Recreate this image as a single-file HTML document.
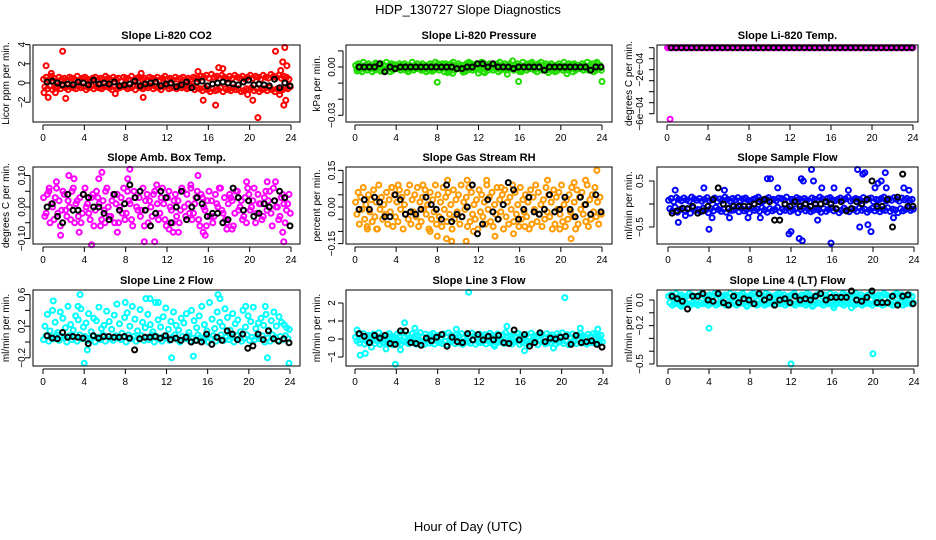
<!DOCTYPE html>
<html><head><meta charset="utf-8">
<style>
html,body{margin:0;padding:0;background:#fff;}
svg{display:block;font-family:"Liberation Sans",Arial,sans-serif;}
</style></head>
<body>
<svg id="chart" width="936" height="540" viewBox="0 0 936 540" xmlns="http://www.w3.org/2000/svg">
<rect x="0" y="0" width="936" height="540" fill="#fff"/>
<text x="468" y="14" text-anchor="middle" font-size="13">HDP_130727  Slope Diagnostics</text>
<text x="468" y="531" text-anchor="middle" font-size="13">Hour of Day (UTC)</text>
</svg>
<script>
const H=[0,0.25,0.5,0.75,1,1.25,1.5,1.75,2,2.25,2.5,2.75,3,3.25,3.5,3.75,4,4.25,4.5,4.75,5,5.25,5.5,5.75,6,6.25,6.5,6.75,7,7.25,7.5,7.75,8,8.25,8.5,8.75,9,9.25,9.5,9.75,10,10.25,10.5,10.75,11,11.25,11.5,11.75,12,12.25,12.5,12.75,13,13.25,13.5,13.75,14,14.25,14.5,14.75,15,15.25,15.5,15.75,16,16.25,16.5,16.75,17,17.25,17.5,17.75,18,18.25,18.5,18.75,19,19.25,19.5,19.75,20,20.25,20.5,20.75,21,21.25,21.5,21.75,22,22.25,22.5,22.75,23,23.25,23.5,23.75];
const BH=[0.5,1,1.5,2,2.5,3,3.5,4,4.5,5,5.5,6,6.5,7,7.5,8,8.5,9,9.5,10,10.5,11,11.5,12,12.5,13,13.5,14,14.5,15,15.5,16,16.5,17,17.5,18,18.5,19,19.5,20,20.5,21,21.5,22,22.5,23,23.5,24];
const xTicks=[0,4,8,12,16,20,24];

// CO2 (ppm/min)
const co2A=[0.4,0.6,0.3,0.7,0.5,0.2,0.6,0.4,0.5,0.3,0.6,0.5,0.4,0.7,0.3,0.5,0.6,0.4,0.2,0.5,0.6,0.3,0.5,0.4,0.7,0.5,0.3,0.6,0.4,0.5,0.2,0.6,0.5,0.4,0.7,0.3,0.5,0.6,0.4,0.5,0.3,0.6,0.5,0.4,0.6,0.3,0.5,0.7,0.4,0.5,0.3,0.6,0.4,0.5,0.6,0.3,0.5,0.4,0.6,0.5,0.4,0.7,0.6,0.8,0.5,0.9,0.6,0.7,0.5,0.8,0.6,0.4,0.7,0.5,0.8,0.6,0.5,0.7,0.4,0.6,0.8,0.5,0.7,0.6,0.4,0.8,0.6,0.5,0.9,0.7,0.6,0.8,0.5,0.7,0.6,0.4];
const co2B=[-0.4,-0.6,-0.3,-0.7,-0.5,-0.4,-0.6,-0.3,-0.5,-0.7,-0.4,-0.5,-0.6,-0.3,-0.5,-0.4,-0.7,-0.5,-0.3,-0.6,-0.4,-0.5,-0.6,-0.4,-0.3,-0.5,-0.7,-0.4,-0.6,-0.5,-0.3,-0.4,-0.6,-0.5,-0.4,-0.7,-0.3,-0.5,-0.6,-0.4,-0.5,-0.3,-0.6,-0.4,-0.5,-0.7,-0.4,-0.3,-0.6,-0.5,-0.4,-0.6,-0.3,-0.5,-0.4,-0.6,-0.5,-0.3,-0.7,-0.5,-0.6,-0.8,-0.5,-0.7,-0.9,-0.6,-0.8,-0.7,-0.5,-0.9,-0.6,-0.7,-0.8,-0.5,-0.7,-0.6,-0.9,-0.8,-0.6,-0.7,-0.5,-0.8,-0.6,-0.9,-0.7,-0.6,-0.8,-0.5,-0.7,-0.9,-0.6,-0.8,-0.7,-0.5,-0.6,-0.4];
const co2OX=[1.9,0.3,0.1,0.5,2.2,7,9.5,9.7,15,15.5,16.7,17,17.4,19.8,20.3,20.8,22.5,23.4,23.6,23.2,23.3,23.5,23,22.9,0.8,1.2];
const co2OY=[3.3,1.8,-1,-1.5,-1.6,-1.1,1,-1.5,1.2,-1.8,-2.3,1.6,1.5,-1.2,-1.8,-3.6,3.3,3.7,1.8,2.2,-2.3,-1.8,1.3,-1.2,1,-1];
const co2K=[0.1,0.2,0,-0.2,-0.1,-0.2,0.1,0,-0.2,0.3,-0.1,0,-0.1,0.1,-0.3,-0.2,-0.1,0.2,-0.3,-0.1,0,0.1,-0.3,-0.1,0,-0.4,-0.2,0.1,-0.5,0.1,0.2,-0.3,-0.1,0,0.1,0,-0.1,-0.2,0.1,0.3,-0.2,-0.1,-0.2,-0.3,0.4,-0.5,0,-0.3];

// Pressure (x0.001 kPa/min)
const presA=[1,2,1,3,1,2,1,1,2,1,2,1,3,1,2,1,1,2,1,2,1,1,3,1,2,1,2,1,1,2,1,3,2,1,1,2,1,2,3,1,2,1,1,2,3,2,1,2,1,3,2,1,2,1,1,2,3,1,2,1,2,1,1,2,1,3,1,2,2,1,1,2,3,1,2,1,2,1,1,2,1,3,1,2,1,2,1,1,2,1,3,1,2,1,2,1];
const presB=[-1,-2,-3,-1,-2,-1,-3,-2,-1,-2,-1,-2,-1,-3,-2,-1,-1,-2,-1,-2,-3,-1,-2,-1,-1,-2,-1,-3,-2,-1,-2,-1,-2,-1,-3,-1,-2,-1,-2,-1,-1,-2,-3,-2,-1,-2,-1,-1,-2,-3,-1,-2,-1,-2,-1,-3,-2,-1,-2,-1,-1,-2,-1,-2,-3,-1,-2,-1,-1,-2,-3,-1,-2,-1,-2,-1,-2,-3,-1,-1,-2,-1,-2,-1,-3,-2,-1,-1,-2,-1,-2,-1,-3,-2,-1,-2];
const presOX=[0.2,2,2.5,8,8.5,9,9.5,11,12.6,12,15.3,14.8,15.9,16,17.2,18.8,20.6,21.3,23.5,24,6.6,7.5,10.5,12.5,19.6,3.8,5.3,9.2];
const presOY=[-2.5,2.5,-2.7,-9.5,2,-3.5,-4,2,-3.5,-3.8,3.8,-4.5,-9,-2.8,3,-3.5,-4.2,1.5,3,-9,-2,-2.7,-3.2,2.3,-2.5,1.5,-1.5,-3];
const presK=[0,0,0,0,2,-3,0,-1,0,0,0,0,0,0,0,0,0,0,0,-1,-1,0,0,2,2,0,2,0,0,0,-1,0,0,0,0,0,-2,0,0,0,0,0,0,0,0,-2,0,0];

// Li-820 Temp (x1e-4 degC/min)
const tempA=[0,0,0,0,0,0,0,0,0,0,0,0,0,0,0,0,0,0,0,0,0,0,0,0,0,0,0,0,0,0,0,0,0,0,0,0,0,0,0,0,0,0,0,0,0,0,0,0,0,0,0,0,0,0,0,0,0,0,0,0,0,0,0,0,0,0,0,0,0,0,0,0,0,0,0,0,0,0,0,0,0,0,0,0,0,0,0,0,0,0,0,0,0,0,0,0];
const tempOX=[0.3,24];
const tempOY=[-6.5,0];
const tempK=[0,0,0,0,0,0,0,0,0,0,0,0,0,0,0,0,0,0,0,0,0,0,0,0,0,0,0,0,0,0,0,0,0,0,0,0,0,0,0,0,0,0,0,0,0,0,0,0];

// Amb Box Temp (x0.01)
const ambA=[3,-2,5,1,-4,6,2,-1,4,-3,0,5,-5,2,3,-2,6,1,-4,4,-1,3,-6,2,5,0,-3,4,1,-5,3,6,-2,2,-4,5,0,3,-1,-6,4,2,-3,5,1,-2,6,-4,3,0,-5,4,2,-1,5,-3,1,6,-2,3,-4,4,0,-6,5,2,-3,1,6,-1,3,-5,4,2,-2,5,0,-4,3,6,-1,2,-5,4,1,-3,5,2,-2,6,0,-4,3,1,-1,4];
const ambB=[-3,4,-5,0,3,-2,-6,5,-1,2,-4,6,1,-3,-5,4,0,-2,3,-6,5,1,-4,-1,6,-3,2,-5,4,0,-2,-4,5,1,-6,3,-1,-3,6,2,-5,0,4,-2,-4,3,1,-6,5,-1,2,-3,-5,6,0,4,-2,-4,1,5,-6,3,-1,2,-3,-5,4,0,6,-2,-4,1,3,-6,5,-1,2,-3,-5,4,0,6,-2,1,-4,3,-1,5,-6,2,0,-3,4,-5,1,-2];
const ambOX=[1.3,2.5,5.7,5.4,8.4,8.2,9.8,10.8,15,23.3,4.7,3.5,15.5,15.7,12.2,12.6,13.1,17.8,23.2,21.7,22.5,1.7,6,19.7,0.6,11,14.3,18.3,3,7.2];
const ambOY=[8,10,11,9,12,9,-11,-11,10,-11,-12,-8,-8,-9,-7,-8,-8,-7,-8,8,8,-9,-5,8,6,7,7,-7,9,-8];
const ambK=[0,1,-3,-5,4,-1,-1,4,3,0,0,-2,-4,4,-1,1,7,3,5,-1,-6,-2,5,3,-5,0,5,-4,0,3,1,-3,-2,-2,-5,-4,6,3,-1,2,-3,-2,1,0,2,5,3,-6];

// Gas Stream RH (x0.01)
const rhA=[2,6,4,8,1,5,3,7,2,9,4,1,6,3,8,5,2,7,4,1,6,9,3,5,8,2,4,7,1,6,3,9,5,2,8,4,6,1,7,3,5,9,2,4,8,6,1,3,7,5,2,9,4,6,1,8,3,5,7,2,4,9,6,1,8,3,5,2,7,4,9,6,1,3,8,5,2,7,4,6,9,1,3,5,8,2,7,4,6,1,9,3,5,8,2,4];
const rhB=[-3,-7,-1,-5,-8,-2,-6,-4,-9,-1,-5,-3,-7,-2,-8,-4,-6,-1,-9,-3,-5,-7,-2,-4,-8,-6,-1,-3,-9,-5,-2,-7,-4,-8,-1,-6,-3,-9,-5,-2,-7,-4,-1,-8,-6,-3,-5,-9,-2,-4,-7,-1,-6,-8,-3,-5,-2,-9,-4,-7,-1,-6,-3,-8,-5,-2,-4,-9,-7,-1,-6,-3,-8,-5,-2,-4,-9,-7,-1,-3,-6,-8,-5,-2,-4,-9,-7,-1,-3,-6,-8,-5,-2,-4,-7,-3];
const rhOX=[23.5,9,10.9,9.4,10.8,8.9,8,13.6,7.3,21,22.4,12.8,15.4,18.7,2.1,4.2,3.6,6.6,11.5,14.2,19.9,21.3,1.2,16.5];
const rhOY=[15,11,11,-14,-14,-13,-12,-12,-10,-13,11,11,-11,11,-9,9,8,9,-10,8,-9,10,-9,-8];
const rhK=[-1,3,-1,4,2,-4,-4,5,3,-3,-2,-3,-1,4,1,-1,-5,9,-6,-3,-4,0,9,-11,-7,3,-2,-5,1,10,7,-5,-1,4,-2,-3,-1,5,-2,-1,4,-1,-4,4,1,-3,5,-2];

// Sample Flow (x0.01 ml/min)
const sfA=[8,12,5,14,10,7,13,9,6,15,11,8,12,6,10,14,7,9,13,5,11,8,15,10,6,12,9,14,7,11,13,8,5,10,12,15,9,6,11,14,8,10,7,13,12,9,15,6,10,8,14,11,7,12,9,5,13,10,8,15,11,6,12,14,9,7,10,13,8,11,15,6,9,12,10,7,14,8,11,13,5,10,9,12,15,7,11,8,14,10,6,13,9,12,8,10];
const sfB=[-10,-15,-7,-18,-12,-9,-16,-11,-20,-8,-14,-12,-17,-9,-13,-19,-10,-15,-7,-12,-16,-11,-18,-9,-14,-13,-8,-17,-10,-15,-12,-19,-9,-14,-11,-16,-8,-13,-18,-10,-15,-12,-7,-17,-11,-14,-9,-16,-13,-10,-19,-12,-8,-15,-11,-17,-14,-9,-13,-18,-10,-16,-12,-8,-15,-11,-19,-14,-9,-13,-17,-10,-12,-16,-8,-14,-11,-18,-13,-9,-15,-10,-17,-12,-14,-8,-16,-11,-13,-19,-10,-15,-12,-9,-14,-11];
const sfOX=[0.7,1,4,3.5,5.5,9.7,10,10.7,11.8,12,13,13.2,12.8,13.1,14,14.2,15,15.9,18.5,19,19.2,18.7,19.5,19.8,20.5,20.8,21.2,21.3,22,23,9,7.8,6,16.2,17.6,4.3,1.7,14.6,20.2,23.5];
const sfOY=[30,-40,-55,35,30,55,55,35,-65,-60,55,50,-75,-80,75,50,35,-85,75,65,68,-50,-45,-60,45,50,68,35,-30,35,-30,-30,-30,35,30,-30,-25,-35,35,30];
const sfK=[-20,-15,-10,-10,-5,-20,-15,-5,10,35,0,-10,-5,-5,-5,-5,0,5,10,5,-35,-35,0,-5,5,-5,0,-5,0,0,5,0,-10,5,-15,-10,5,0,10,50,-5,-5,10,-50,15,65,-5,-5];

// Line 2 Flow (x0.01)
const l2A=[3,8,1,6,4,9,2,7,5,0,8,3,6,1,9,4,7,2,5,8,0,6,3,9,1,7,4,2,8,5,3,6,0,9,4,7,1,5,8,2,6,3,9,0,7,4,1,8,5,2,6,9,3,0,7,4,8,1,5,2,9,6,3,7,0,4,8,1,5,9,2,6,3,7,0,8,4,1,5,9,2,6,3,7,4,8,0,5,1,9,6,2,7,3,8,4];
const l2B=[20,35,14,40,25,12,38,30,18,45,22,15,33,28,42,19,24,36,13,30,27,44,17,21,39,26,16,34,48,23,11,31,37,20,45,29,14,41,25,18,35,22,13,50,28,19,32,43,16,26,38,21,15,30,24,36,12,40,27,18,33,45,22,14,50,29,17,38,25,20,42,31,15,36,23,28,13,40,19,33,26,44,17,24,30,21,35,15,27,38,20,32,25,22,18,16];
const l2OX=[1,4,3.6,17,23.9,4.3,8,19.7,21.6,12.5,21.8,10,10.4,17.2,3.4,11.2,14.6];
const l2OY=[52,-27,60,60,-27,-10,50,45,45,-20,-20,55,55,55,45,50,-18];
const l2K=[8,5,4,12,6,7,6,5,-2,8,5,7,7,6,6,7,5,-10,4,6,6,7,5,8,3,5,2,6,0,2,0,10,-3,6,2,14,10,3,10,-8,-5,10,3,14,4,1,4,-1];

// Line 3 Flow (x0.01)
const l3A=[10,25,5,30,15,20,8,28,12,35,18,6,22,30,14,9,26,17,32,11,24,7,29,16,20,35,13,27,9,23,31,15,19,6,28,12,34,21,10,25,17,30,8,22,14,33,19,11,27,16,24,9,31,20,13,28,7,22,35,15,18,26,11,30,20,14,25,9,33,17,12,27,21,8,30,16,23,11,29,19,34,13,24,10,28,15,21,32,18,9,26,14,30,22,12,20];
const l3B=[-10,-22,-5,-28,-15,-18,-8,-25,-12,-30,-20,-6,-24,-14,-32,-9,-19,-27,-11,-16,-26,-7,-21,-29,-13,-17,-31,-10,-23,-15,-28,-8,-20,-25,-12,-33,-18,-9,-26,-14,-22,-30,-11,-17,-24,-6,-29,-16,-20,-13,-27,-10,-23,-31,-15,-18,-8,-25,-21,-12,-28,-16,-9,-30,-19,-24,-11,-26,-14,-20,-32,-10,-17,-27,-13,-22,-8,-29,-18,-15,-25,-11,-31,-20,-14,-26,-9,-23,-16,-28,-12,-21,-19,-24,-10,-15];
const l3OX=[11,20.3,3.9,0.5,1,0.2,4.8,4.4,1.6,3,14.7,19.2,21.8,23.5,13.5,16.4,5.8,9.8];
const l3OY=[260,230,-140,-90,-80,50,90,-60,-45,-55,70,-50,60,55,-40,-65,60,55];
const l3K=[30,15,-20,20,5,20,-25,-30,45,45,-20,-25,-35,5,-10,10,25,-40,10,-15,-20,30,-5,25,-5,15,-5,20,-20,-25,50,-5,25,-40,-20,35,-15,5,0,10,15,-30,20,-20,-15,-10,-30,-45];

// Line 4 (LT) Flow (x0.01)
const l4A=[3,4,2,5,3,4,2,3,5,4,2,3,4,5,3,2,4,3,5,4,2,3,4,3,5,2,4,3,4,5,3,2,4,5,3,4,2,3,5,4,3,2,4,5,3,4,2,3,4,5,3,2,4,3,5,4,2,3,4,5,3,4,2,5,3,4,2,3,5,4,3,2,4,5,3,4,2,3,4,5,3,2,4,3,5,4,2,3,4,5,3,4,2,3,4,3];
const l4B=[-2,-4,-3,-2,-4,-3,-2,-3,-4,-2,-3,-4,-2,-3,-2,-4,-3,-2,-4,-3,-2,-3,-4,-2,-3,-2,-4,-3,-2,-3,-4,-2,-3,-2,-4,-3,-2,-4,-3,-2,-3,-4,-2,-3,-2,-4,-3,-2,-3,-4,-2,-3,-2,-4,-3,-2,-4,-3,-2,-3,-4,-2,-3,-2,-4,-3,-2,-3,-4,-2,-3,-2,-4,-3,-2,-4,-3,-2,-3,-4,-2,-3,-2,-4,-3,-2,-3,-4,-2,-3,-2,-4,-3,-2,-3,-2];
const l4OX=[4,12,20,16.2,17.9,14.1,7.7,1.3];
const l4OY=[-22,-50,-42,-6,-6,-5,-5,-5];
const l4K=[3,1,-1,-7,3,3,5,0,-1,5,-2,-4,3,-2,1,0,-3,5,0,2,-4,0,1,-2,3,0,1,0,3,5,0,2,2,2,2,7,0,-1,2,7,-2,-2,-2,3,-4,3,4,-3];

const NS='http://www.w3.org/2000/svg';
const svg=document.getElementById('chart');
function mk(tag,attrs,parent){const e=document.createElementNS(NS,tag);for(const k in attrs)e.setAttribute(k,attrs[k]);(parent||svg).appendChild(e);return e;}

const panels=[
 {id:'co2',title:'Slope Li-820 CO2',ylab:'Licor ppm per min.',color:'#ff0000',unit:1,A:co2A,B:co2B,OX:co2OX,OY:co2OY,K:co2K,
  L:33,R:300,T:45,Bm:122,x0:43,x24:291,y0:83,k:9.6,yt:[-2,0,2,4],yl:['\u22122','0','2','4'],ylx:25,ytx:9},
 {id:'pressure',title:'Slope Li-820 Pressure',ylab:'kPa per min.',color:'#22dd00',unit:0.001,A:presA,B:presB,OX:presOX,OY:presOY,K:presK,
  L:346,R:612,T:45,Bm:122,x0:355,x24:602,y0:67,k:1610,yt:[-0.03,-0.02,-0.01,0,0.01],yl:['\u22120.03','','','0.00',''],ylx:335,ytx:320},
 {id:'li820-temp',title:'Slope Li-820 Temp.',ylab:'degrees C per min.',color:'#ff00ff',unit:0.0001,A:tempA,B:tempA,OX:tempOX,OY:tempOY,K:tempK,
  L:657,R:918,T:45,Bm:122,x0:667,x24:913,y0:47.7,k:110000,yt:[0,-0.0001,-0.0002,-0.0003,-0.0004,-0.0005,-0.0006],yl:['','','\u22122e\u221204','','','','\u22126e\u221204'],ylx:643,ytx:632},
 {id:'amb-temp',title:'Slope Amb. Box Temp.',ylab:'degrees C per min.',color:'#ff00ff',unit:0.01,A:ambA,B:ambB,OX:ambOX,OY:ambOY,K:ambK,
  L:33,R:300,T:167,Bm:244,x0:43,x24:291,y0:207,k:315,yt:[-0.1,-0.05,0,0.05,0.1],yl:['\u22120.10','','0.00','','0.10'],ylx:25,ytx:9},
 {id:'gas-rh',title:'Slope Gas Stream RH',ylab:'percent per min.',color:'#ff9a00',unit:0.01,A:rhA,B:rhB,OX:rhOX,OY:rhOY,K:rhK,
  L:346,R:612,T:167,Bm:244,x0:355,x24:602,y0:207,k:244,yt:[-0.15,-0.1,-0.05,0,0.05,0.1,0.15],yl:['\u22120.15','','','0.00','','','0.15'],ylx:335,ytx:320},
 {id:'sample-flow',title:'Slope Sample Flow',ylab:'ml/min per min.',color:'#0000ff',unit:0.01,A:sfA,B:sfB,OX:sfOX,OY:sfOY,K:sfK,
  L:657,R:918,T:167,Bm:244,x0:668,x24:914,y0:204,k:46,yt:[-0.5,0,0.5],yl:['\u22120.5','','0.5'],ylx:643,ytx:632},
 {id:'line2-flow',title:'Slope Line 2 Flow',ylab:'ml/min per min.',color:'#00ffff',unit:0.01,A:l2A,B:l2B,OX:l2OX,OY:l2OY,K:l2K,
  L:33,R:300,T:290,Bm:366,x0:43,x24:290,y0:342,k:79,yt:[-0.2,0,0.2,0.4,0.6],yl:['\u22120.2','','0.2','','0.6'],ylx:25,ytx:9},
 {id:'line3-flow',title:'Slope Line 3 Flow',ylab:'ml/min per min.',color:'#00ffff',unit:0.01,A:l3A,B:l3B,OX:l3OX,OY:l3OY,K:l3K,
  L:346,R:612,T:290,Bm:366,x0:355,x24:603,y0:339,k:18,yt:[-1,0,1,2],yl:['\u22121','0','1','2'],ylx:335,ytx:320},
 {id:'line4-flow',title:'Slope Line 4 (LT) Flow',ylab:'ml/min per min.',color:'#00ffff',unit:0.01,A:l4A,B:l4B,OX:l4OX,OY:l4OY,K:l4K,
  L:657,R:918,T:290,Bm:366,x0:668,x24:914,y0:300,k:128,yt:[0,-0.1,-0.2,-0.3,-0.4,-0.5],yl:['0.0','','\u22120.2','','','\u22120.5'],ylx:643,ytx:632}
];

panels.forEach(p=>{
  const g=mk('g',{});
  
  
  const sx=h=>p.x0+(p.x24-p.x0)*h/24;
  const sy=v=>p.y0-v*p.k;
  const t=mk('text',{x:(p.L+p.R)/2,y:p.T-6,'text-anchor':'middle','font-size':11,'font-weight':'bold'},g);
  t.textContent=p.title;
  
  
  const pts=mk('g',{fill:'none','stroke-width':2},g);
  
  
  function dot(h,v,col,name){
    const c=mk('circle',{cx:sx(h).toFixed(1),cy:sy(v).toFixed(1),r:2.5,stroke:col},pts);
    
    
  }
  const n1=Math.min(H.length,p.A.length),n2=Math.min(H.length,p.B.length);
  for(let i=0;i<n1;i++)dot(H[i]+0.06,p.A[i]*p.unit,p.color,'colored-point');
  for(let i=0;i<n2;i++)dot(H[i]+0.18,p.B[i]*p.unit,p.color,'colored-point');
  for(let i=0;i<Math.min(p.OX.length,p.OY.length);i++)dot(p.OX[i],p.OY[i]*p.unit,p.color,'outlier-point');
  for(let i=0;i<Math.min(BH.length,p.K.length);i++)dot(BH[i]-0.1,p.K[i]*p.unit,'#000','black-point');
  const box=mk('rect',{x:p.L,y:p.T,width:p.R-p.L,height:p.Bm-p.T,fill:'none',stroke:'#000','stroke-width':1},g);
  
  
  const xa=mk('g',{stroke:'#000','stroke-width':1},g);
  
  
  mk('line',{x1:sx(0),x2:sx(24),y1:p.Bm+3,y2:p.Bm+3},xa);
  xTicks.forEach(h=>{
    mk('line',{x1:sx(h),x2:sx(h),y1:p.Bm+3,y2:p.Bm+8},xa);
    const tl=mk('text',{x:sx(h),y:p.Bm+19,'text-anchor':'middle','font-size':10,stroke:'none',fill:'#000'},xa);
    tl.textContent=String(h);
    
    
  });
  const ya=mk('g',{stroke:'#000','stroke-width':1},g);
  
  
  const ys=p.yt.map(sy);
  mk('line',{x1:p.L-3,x2:p.L-3,y1:Math.min(...ys),y2:Math.max(...ys)},ya);
  p.yt.forEach((v,i)=>{
    const yy=sy(v);
    mk('line',{x1:p.L-8,x2:p.L-3,y1:yy,y2:yy},ya);
    if(p.yl[i]){
      const tl=mk('text',{x:p.ylx,y:yy,'text-anchor':'middle','font-size':10,stroke:'none',fill:'#000',transform:`rotate(-90 ${p.ylx} ${yy})`},ya);
      tl.textContent=p.yl[i];
      
      
    }
  });
  const yt=mk('text',{x:p.ytx,y:(p.T+p.Bm)/2,'text-anchor':'middle','font-size':10,transform:`rotate(-90 ${p.ytx} ${(p.T+p.Bm)/2})`},g);
  yt.textContent=p.ylab;
  
  
});
</script>
</body></html>
